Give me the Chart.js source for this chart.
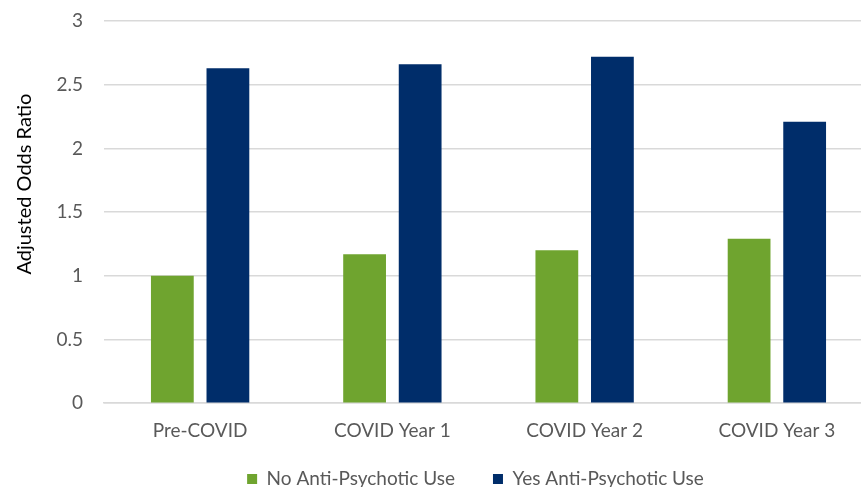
<!DOCTYPE html>
<html>
<head>
<meta charset="utf-8">
<script src="https://cdn.jsdelivr.net/npm/chart.js@4/dist/chart.umd.min.js"></script>
<style>
  html, body { margin: 0; padding: 0; background: #fff; overflow: hidden; }
  #wrap { position: relative; width: 873px; height: 487px; }
</style>
</head>
<body>
<div id="wrap"><canvas id="c" width="873" height="487"></canvas></div>
<script>
// Periods compared
const categories = ['Pre-COVID', 'COVID Year 1', 'COVID Year 2', 'COVID Year 3'];
// Adjusted odds ratios per period
const noAntiPsychotic = [1.0, 1.17, 1.2, 1.29];
const yesAntiPsychotic = [2.63, 2.66, 2.72, 2.21];
// Y-axis ticks
const yTicks = [0, 0.5, 1, 1.5, 2, 2.5, 3];

const FONT = 'Lato, "Open Sans", sans-serif';
const GREY = '#595959';
const GRID = '#d9d9d9';

// Legend: wide gaps between entries, compact strip at the bottom edge
const LEGEND_HEIGHT = 36;     // space reserved in the layout
const LEGEND_TOP = 431.5;     // top of the drawn legend block
const LEGEND_SHIFT_X = 39;
const legendTweak = {
  id: 'legendTweak',
  beforeInit(chart) {
    const lg = chart.legend;
    if (!lg) return;
    const fit = lg.fit.bind(lg);
    lg.fit = function () { fit(); this.height = LEGEND_HEIGHT; };
    const draw = lg.draw.bind(lg);
    lg.draw = function () {
      const saved = { top: this.top, left: this.left, right: this.right };
      this.top = LEGEND_TOP;
      this.left += LEGEND_SHIFT_X;
      this.right += LEGEND_SHIFT_X;
      draw();
      Object.assign(this, saved);
    };
  }
};

// The y title sits a little above the middle of the axis
const TITLE_SHIFT_Y = -28;
function liftTitle(axis) {
  if (axis._titleLifted) return;
  const drawTitle = axis.drawTitle.bind(axis);
  axis.drawTitle = function () {
    const ctx = this.ctx;
    ctx.save();
    ctx.translate(0, TITLE_SHIFT_Y);
    drawTitle();
    ctx.restore();
  };
  axis._titleLifted = true;
}

new Chart(document.getElementById('c'), {
  type: 'bar',
  data: {
    labels: categories,
    datasets: [
      { label: 'No Anti-Psychotic Use', data: noAntiPsychotic, backgroundColor: '#6fa42f',
        categoryPercentage: 0.578, barPercentage: 0.77 },
      { label: 'Yes Anti-Psychotic Use', data: yesAntiPsychotic, backgroundColor: '#002d6a',
        categoryPercentage: 0.578, barPercentage: 0.77 }
    ]
  },
  plugins: [legendTweak],
  options: {
    responsive: false,
    animation: false,
    layout: { padding: { top: 21, left: 0, right: 0, bottom: 0 } },
    plugins: {
      legend: {
        position: 'bottom',
        labels: {
          font: { family: FONT, size: 19 },
          color: GREY,
          boxWidth: 10, boxHeight: 10,
          padding: 38
        }
      },
      tooltip: { enabled: false }
    },
    scales: {
      x: {
        grid: { display: false },
        border: { display: true, color: GRID, width: 1.5 },
        ticks: { font: { family: FONT, size: 19 }, color: GREY, padding: 8.5 }
      },
      y: {
        min: 0, max: 3,
        afterBuildTicks: (axis) => { axis.ticks = yTicks.map(v => ({ value: v })); },
        afterFit(axis) {
          axis.width = 104; axis.paddingTop = 0; axis.paddingBottom = 0;
          liftTitle(axis);
        },
        grid: { color: GRID, lineWidth: 1.5, drawTicks: false },
        border: { display: false },
        ticks: { font: { family: FONT, size: 19 }, color: GREY, padding: 21,
                 callback: (v) => String(v) },
        title: { display: true, text: 'Adjusted Odds Ratio', font: { family: FONT, size: 20 },
                 color: '#000', padding: { top: 13, bottom: 19 } }
      }
    }
  }
});
</script>
</body>
</html>
